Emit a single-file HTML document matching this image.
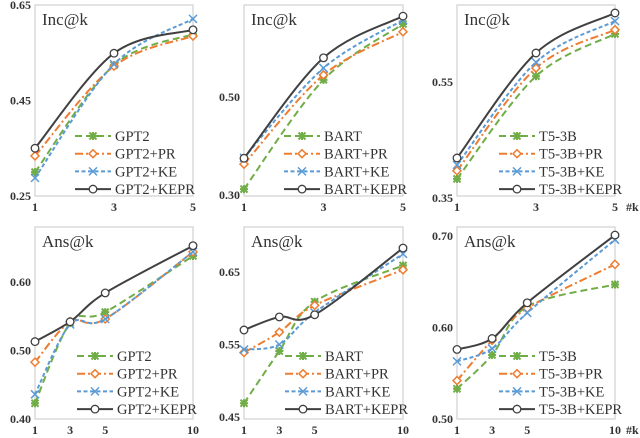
<!DOCTYPE html>
<html><head><meta charset="utf-8">
<style>
html,body{margin:0;padding:0;background:#fff;}
svg{display:block;}
svg text{font-family:"Liberation Serif","Times New Roman","DejaVu Serif",serif;}
</style></head>
<body>
<svg id="chart" width="640" height="438" viewBox="0 0 640 438" xmlns="http://www.w3.org/2000/svg" font-family="Liberation Serif, serif"></svg>
<script>
// ---- data ----
const rowTopK = [1, 3, 5];
const rowBotK = [1, 3, 5, 10];
const gptInc = [0.300, 0.524, 0.589];
const gptPrInc = [0.334, 0.522, 0.585];
const gptKeInc = [0.288, 0.526, 0.621];
const gptKeprInc = [0.350, 0.549, 0.598];
const bartInc = [0.312, 0.535, 0.649];
const bartPrInc = [0.363, 0.545, 0.633];
const bartKeInc = [0.376, 0.559, 0.657];
const bartKeprInc = [0.375, 0.580, 0.665];
const t5Inc = [0.383, 0.560, 0.633];
const t5PrInc = [0.397, 0.574, 0.640];
const t5KeInc = [0.407, 0.584, 0.655];
const t5KeprInc = [0.419, 0.600, 0.669];
const gptAns = [0.423, 0.540, 0.556, 0.638];
const gptPrAns = [0.483, 0.542, 0.546, 0.644];
const gptKeAns = [0.436, 0.538, 0.546, 0.644];
const gptKeprAns = [0.513, 0.542, 0.584, 0.653];
const bartAns = [0.469, 0.541, 0.609, 0.659];
const bartPrAns = [0.539, 0.567, 0.604, 0.653];
const bartKeAns = [0.543, 0.550, 0.594, 0.675];
const bartKeprAns = [0.570, 0.588, 0.591, 0.683];
const t5Ans = [0.533, 0.570, 0.623, 0.647];
const t5PrAns = [0.542, 0.586, 0.621, 0.669];
const t5KeAns = [0.563, 0.577, 0.616, 0.696];
const t5KeprAns = [0.576, 0.588, 0.627, 0.701];
const yTicksP1 = ["0.25", "0.45", "0.65"];
const yTicksP2 = ["0.30", "0.50"];
const yTicksP3 = ["0.35", "0.55"];
const yTicksP4 = ["0.40", "0.50", "0.60"];
const yTicksP5 = ["0.45", "0.55", "0.65"];
const yTicksP6 = ["0.50", "0.60", "0.70"];

const NS = "http://www.w3.org/2000/svg";
const FONT = '"Liberation Serif", "Times New Roman", serif';
const svg = document.getElementById("chart");
function el(tag, attrs, parent) {
  const e = document.createElementNS(NS, tag);
  for (const k in attrs) e.setAttribute(k, attrs[k]);
  if (tag === "text") e.style.fontFamily = FONT;
  (parent || svg).appendChild(e);
  return e;
}
const styles = [
  {c:"#70AD47", dash:"7,4", m:"star"},
  {c:"#ED7D31", dash:"8,3,2,3", m:"diamond"},
  {c:"#5B9BD5", dash:"4,2.5", m:"x"},
  {c:"#404040", dash:"", m:"circle"}
];
function marker(g, type, x, y, c) {
  let m;
  if (type === "circle") m = el("circle", {cx:x, cy:y, r:3.8, fill:"#fff", stroke:c, "stroke-width":1.3}, g);
  else if (type === "diamond") m = el("path", {d:`M${x} ${y-4}L${x+4} ${y}L${x} ${y+4}L${x-4} ${y}Z`, fill:"#fff", stroke:c, "stroke-width":1.5}, g);
  else if (type === "x") m = el("path", {d:`M${x-4} ${y-4}L${x+4} ${y+4}M${x-4} ${y+4}L${x+4} ${y-4}`, stroke:c, "stroke-width":1.5, fill:"none"}, g);
  else m = el("path", {d:`M${x-3.5} ${y-3.5}L${x+3.5} ${y+3.5}M${x-3.5} ${y+3.5}L${x+3.5} ${y-3.5}M${x} ${y-4}L${x} ${y+4}M${x-4} ${y}L${x+4} ${y}`, stroke:c, "stroke-width":2, fill:"none"}, g);
  
  
}
function smoothPath(pts) {
  let d = `M${pts[0][0]} ${pts[0][1]}`;
  for (let i = 0; i < pts.length - 1; i++) {
    const p0 = pts[Math.max(0, i-1)], p1 = pts[i], p2 = pts[i+1], p3 = pts[Math.min(pts.length-1, i+2)];
    const c1x = p1[0] + (p2[0]-p0[0])/6, c1y = p1[1] + (p2[1]-p0[1])/6;
    const c2x = p2[0] - (p3[0]-p1[0])/6, c2y = p2[1] - (p3[1]-p1[1])/6;
    d += `C${c1x} ${c1y} ${c2x} ${c2y} ${p2[0]} ${p2[1]}`;
  }
  return d;
}
function panel(cfg) {
  const g = el("g", {});
  
  
  const xs = k => cfg.x0 + (k - cfg.ks[0]) / (cfg.ks[cfg.ks.length-1] - cfg.ks[0]) * (cfg.x1 - cfg.x0);
  const ys = v => cfg.yA + (v - cfg.vA) / (cfg.vB - cfg.vA) * (cfg.yB - cfg.yA);
  const box = el("rect", {x:cfg.x0, y:cfg.top, width:cfg.x1-cfg.x0, height:cfg.bot-cfg.top, fill:"none", stroke:"#d0d0d0", "stroke-width":1.2}, g);
  
  
  const t = el("text", {x:cfg.x0+7, y:cfg.top+20, "font-size":17, fill:"#333"}, g);
  t.textContent = cfg.title;
  
  
  cfg.yt.forEach(s => {
    const tt = el("text", {x:cfg.x0-4, y:ys(parseFloat(s))+4, "font-size":12, "font-weight":"bold", "text-anchor":"end", fill:"#333"}, g);
    tt.textContent = s;
    
    
  });
  cfg.ks.forEach(k => {
    const tt = el("text", {x:xs(k), y:cfg.bot+15, "font-size":12, "font-weight":"bold", "text-anchor":"middle", fill:"#333"}, g);
    tt.textContent = String(k);
    
    
  });
  if (cfg.kLabel) {
    const tt = el("text", {x:cfg.x1+11, y:cfg.bot+15, "font-size":12, "font-weight":"bold", fill:"#333"}, g);
    tt.textContent = "#k";
    
    
  }
  cfg.series.forEach((vals, i) => {
    const st = styles[i];
    const pts = vals.map((v, j) => [xs(cfg.ks[j]), ys(v)]);
    const p = el("path", {d:smoothPath(pts), fill:"none", stroke:st.c, "stroke-width":2, "stroke-dasharray":st.dash}, g);
    
    
    pts.forEach(pt => marker(g, st.m, pt[0], pt[1], st.c));
    const ly = cfg.legY + i * 17.7;
    const lx0 = cfg.legX, lx1 = cfg.legX + 36;
    const le = el("g", {}, g);
    
    
    el("line", {x1:lx0, y1:ly, x2:lx1, y2:ly, stroke:st.c, "stroke-width":2, "stroke-dasharray":st.dash}, le);
    marker(le, st.m, (lx0+lx1)/2, ly, st.c);
    const lt = el("text", {x:lx1+4, y:ly+5, "font-size":14.5, fill:"#333"}, le);
    lt.textContent = cfg.names[i];
    
    
  });
}
const topRow = {top:5, bot:196, ks:rowTopK};
const botRow = {top:227, bot:419, ks:rowBotK};
panel(Object.assign({name:"panel-gpt2-inc", title:"Inc@k", x0:35, x1:193, vA:0.25, yA:196, vB:0.65, yB:5, yt:yTicksP1,
  series:[gptInc, gptPrInc, gptKeInc, gptKeprInc], names:["GPT2","GPT2+PR","GPT2+KE","GPT2+KEPR"], legX:75, legY:136}, topRow));
panel(Object.assign({name:"panel-bart-inc", title:"Inc@k", x0:244, x1:403, vA:0.30, yA:195, vB:0.50, yB:97, yt:yTicksP2,
  series:[bartInc, bartPrInc, bartKeInc, bartKeprInc], names:["BART","BART+PR","BART+KE","BART+KEPR"], legX:284, legY:136}, topRow));
panel(Object.assign({name:"panel-t5-inc", title:"Inc@k", x0:457, x1:615, vA:0.35, yA:198, vB:0.55, yB:82, yt:yTicksP3, kLabel:true,
  series:[t5Inc, t5PrInc, t5KeInc, t5KeprInc], names:["T5-3B","T5-3B+PR","T5-3B+KE","T5-3B+KEPR"], legX:499, legY:136}, topRow));
panel(Object.assign({name:"panel-gpt2-ans", title:"Ans@k", x0:35, x1:193, vA:0.40, yA:419, vB:0.60, yB:282, yt:yTicksP4,
  series:[gptAns, gptPrAns, gptKeAns, gptKeprAns], names:["GPT2","GPT2+PR","GPT2+KE","GPT2+KEPR"], legX:77, legY:356}, botRow));
panel(Object.assign({name:"panel-bart-ans", title:"Ans@k", x0:244, x1:403, vA:0.45, yA:417, vB:0.65, yB:272, yt:yTicksP5,
  series:[bartAns, bartPrAns, bartKeAns, bartKeprAns], names:["BART","BART+PR","BART+KE","BART+KEPR"], legX:285, legY:356}, botRow));
panel(Object.assign({name:"panel-t5-ans", title:"Ans@k", x0:457, x1:615, vA:0.50, yA:419, vB:0.70, yB:236, yt:yTicksP6, kLabel:true,
  series:[t5Ans, t5PrAns, t5KeAns, t5KeprAns], names:["T5-3B","T5-3B+PR","T5-3B+KE","T5-3B+KEPR"], legX:499, legY:356}, botRow));
</script>
</body></html>
